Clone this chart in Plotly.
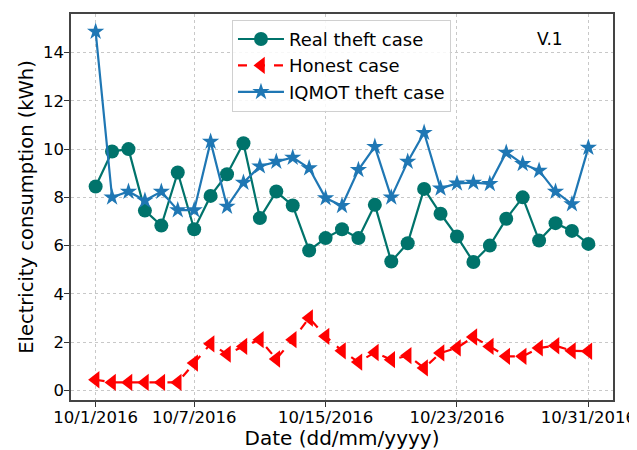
import plotly.graph_objects as go

# =========================
# Data (kWh per day, October 2016)
# =========================
days = list(range(31))
tick_idx = [0, 6, 14, 22, 30]
tick_labels = ["10/1/2016", "10/7/2016", "10/15/2016", "10/23/2016", "10/31/2016"]

real_theft = [8.45, 9.9, 10.0, 7.45, 6.83, 9.03, 6.68, 8.06, 8.96, 10.24,
              7.14, 8.24, 7.66, 5.8, 6.31, 6.68, 6.31, 7.69, 5.34, 6.1,
              8.35, 7.32, 6.38, 5.32, 6.0, 7.11, 8.0, 6.21, 6.93, 6.61, 6.07]
honest = [0.44, 0.33, 0.33, 0.33, 0.33, 0.33, 1.13, 1.93, 1.5, 1.82,
          2.1, 1.3, 2.1, 3.0, 2.24, 1.64, 1.17, 1.57, 1.27, 1.44,
          0.93, 1.55, 1.76, 2.21, 1.82, 1.41, 1.41, 1.76, 1.85, 1.64, 1.62]
iqmot_theft = [14.87, 8.0, 8.24, 7.87, 8.24, 7.47, 7.47, 10.31, 7.62, 8.61,
               9.29, 9.48, 9.65, 9.21, 7.97, 7.65, 9.14, 10.1, 8.0, 9.48,
               10.68, 8.37, 8.58, 8.61, 8.56, 9.86, 9.39, 9.11, 8.24, 7.72, 10.06]

FONT = "DejaVu Sans"

fig = go.Figure()

fig.add_trace(go.Scatter(
    x=days, y=real_theft, name="Real theft case", mode="lines+markers",
    legendgroup="a",
    line=dict(color="#00736b", width=2.2),
    marker=dict(symbol="circle", size=14, color="#00736b"),
))
fig.add_trace(go.Scatter(
    x=days, y=honest, name="Honest case", mode="lines+markers",
    legendgroup="b",
    line=dict(color="#ff0000", width=2.2, dash="dash"),
    marker=dict(symbol="triangle-left", size=15, color="#ff0000"),
))
fig.add_trace(go.Scatter(
    x=days, y=iqmot_theft, name="IQMOT theft case", mode="lines+markers",
    legendgroup="c",
    line=dict(color="#1f77b4", width=2.2),
    marker=dict(symbol="star", size=13, color="#1f77b4"),
))

axis_common = dict(
    showline=True, linecolor="#444444", linewidth=1.5, mirror=True,
    ticks="outside", ticklen=5, tickcolor="#333333",
    showgrid=True, gridcolor="#c8c8c8", griddash="dot", gridwidth=1,
    zeroline=False, automargin=False,
    tickfont=dict(family=FONT, size=16.5, color="black"),
)

fig.update_xaxes(
    range=[-1.5, 31.5], tickvals=tick_idx, ticktext=tick_labels,
    ticklabelstandoff=-4,
    title=dict(text="Date (dd/mm/yyyy)", font=dict(family=FONT, size=20, color="black"), standoff=5),
    **axis_common,
)
fig.update_yaxes(
    range=[-0.4, 15.6], tickvals=[0, 2, 4, 6, 8, 10, 12, 14],
    ticklabelstandoff=-3,
    title=dict(text="Electricity consumption (kWh)", font=dict(family=FONT, size=19.5, color="black"), standoff=4),
    **axis_common,
)

fig.add_annotation(
    x=0.884, y=0.934, xref="paper", yref="paper", text="V.1", showarrow=False,
    xanchor="center", yanchor="middle",
    font=dict(family=FONT, size=17, color="black"),
)

# page body adds an 8px offset, so the figure is shrunk by that amount
fig.update_layout(
    width=629, height=442,
    margin=dict(l=63, r=24, t=6, b=50),
    plot_bgcolor="white", paper_bgcolor="white",
    font=dict(family=FONT, color="black"),
    legend=dict(
        x=0.297, y=0.985, xanchor="left", yanchor="top",
        bgcolor="rgba(255,255,255,0.85)", bordercolor="#d0d0d0", borderwidth=1,
        font=dict(family=FONT, size=18, color="black"),
        tracegroupgap=0, itemwidth=46,
    ),
)

fig.write_html("out.html")
